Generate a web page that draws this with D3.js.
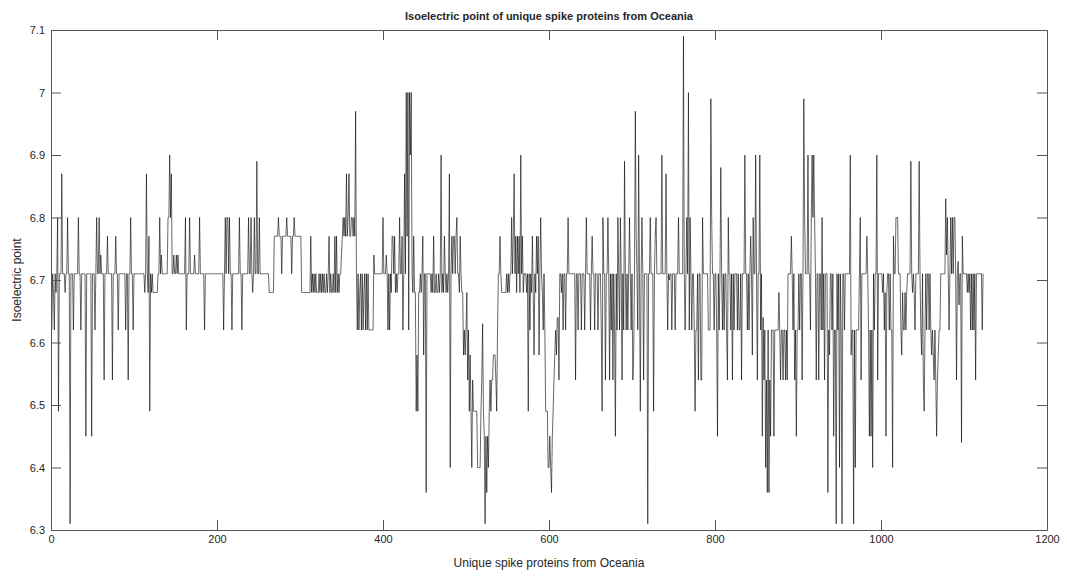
<!DOCTYPE html>
<html>
<head>
<meta charset="utf-8">
<script src="https://cdn.jsdelivr.net/npm/d3@7"></script>
<style>
  body { margin: 0; background: #fff; }
  svg text { font-family: "Liberation Sans", Arial, sans-serif; fill: #262626; }
</style>
</head>
<body>
<div id="chart"></div>
<script>
// isoelectric point per protein in blocks of ~115 proteins
var seg1 = [6.62,6.71,6.68,6.62,6.71,6.68,6.71,6.80,6.49,6.71,
  6.71,6.71,6.87,6.71,6.71,6.71,6.68,6.71,6.71,6.80,
  6.71,6.71,6.31,6.71,6.71,6.71,6.62,6.71,6.71,6.71,
  6.71,6.71,6.80,6.71,6.71,6.62,6.71,6.71,6.71,6.71,
  6.71,6.45,6.71,6.71,6.71,6.71,6.71,6.71,6.45,6.71,
  6.71,6.71,6.62,6.71,6.80,6.71,6.71,6.80,6.71,6.74,
  6.71,6.71,6.71,6.54,6.71,6.71,6.71,6.77,6.71,6.71,
  6.71,6.71,6.71,6.54,6.71,6.71,6.71,6.77,6.71,6.71,
  6.62,6.71,6.71,6.71,6.71,6.71,6.71,6.71,6.71,6.62,
  6.71,6.71,6.54,6.71,6.71,6.80,6.71,6.71,6.62,6.71,
  6.71,6.71,6.71,6.71,6.71,6.71,6.71,6.71,6.71,6.71,
  6.71,6.71,6.68,6.71];
var seg2 = [6.87,6.71,6.68,6.77,6.49,6.71,
  6.68,6.71,6.68,6.68,6.68,6.68,6.68,6.68,6.71,6.71,
  6.80,6.71,6.74,6.71,6.71,6.71,6.71,6.71,6.71,6.71,
  6.80,6.80,6.90,6.80,6.87,6.71,6.71,6.74,6.71,6.71,
  6.74,6.71,6.74,6.71,6.71,6.71,6.71,6.71,6.71,6.71,
  6.71,6.80,6.62,6.71,6.71,6.71,6.80,6.71,6.71,6.71,
  6.71,6.71,6.74,6.71,6.71,6.71,6.71,6.71,6.80,6.71,
  6.71,6.71,6.71,6.71,6.62,6.71,6.71,6.71,6.71,6.71,
  6.71,6.71,6.71,6.71,6.71,6.71,6.71,6.71,6.71,6.71,
  6.71,6.71,6.71,6.71,6.71,6.71,6.71,6.62,6.71,6.80,
  6.71,6.80,6.80,6.71,6.80,6.71,6.71,6.62,6.71,6.71,
  6.71,6.71,6.71,6.71,6.71,6.71,6.80,6.71];
var seg3 = [6.71,6.62,
  6.71,6.71,6.71,6.71,6.71,6.71,6.71,6.80,6.71,6.71,
  6.80,6.71,6.68,6.71,6.80,6.71,6.71,6.89,6.71,6.71,
  6.80,6.71,6.71,6.71,6.71,6.71,6.71,6.71,6.71,6.71,
  6.71,6.71,6.68,6.68,6.68,6.68,6.68,6.68,6.77,6.77,
  6.77,6.77,6.77,6.80,6.77,6.77,6.77,6.71,6.77,6.77,
  6.77,6.77,6.77,6.80,6.77,6.77,6.77,6.77,6.77,6.71,
  6.77,6.77,6.80,6.77,6.77,6.77,6.77,6.77,6.77,6.77,
  6.77,6.68,6.68,6.68,6.68,6.68,6.68,6.68,6.68,6.68,
  6.68,6.68,6.77,6.68,6.71,6.68,6.71,6.68,6.71,6.68,
  6.68,6.68,6.71,6.68,6.71,6.68,6.71,6.68,6.71,6.68,
  6.68,6.71,6.68,6.71,6.77,6.68,6.71,6.68,6.68,6.71,
  6.68,6.77,6.68];
var seg4 = [6.77,6.68,6.71,6.68,6.71,6.71,6.74,
  6.77,6.80,6.77,6.80,6.77,6.87,6.77,6.80,6.87,6.77,
  6.77,6.80,6.80,6.77,6.80,6.77,6.97,6.71,6.62,6.71,
  6.62,6.68,6.71,6.62,6.71,6.62,6.68,6.71,6.62,6.71,
  6.62,6.71,6.62,6.62,6.62,6.62,6.62,6.62,6.74,6.71,
  6.71,6.71,6.71,6.71,6.71,6.71,6.71,6.71,6.71,6.80,
  6.71,6.71,6.71,6.74,6.71,6.62,6.71,6.62,6.71,6.68,
  6.77,6.77,6.71,6.77,6.68,6.71,6.68,6.71,6.71,6.80,
  6.71,6.71,6.77,6.62,6.71,6.87,6.71,7.00,6.77,7.00,
  6.62,7.00,6.90,7.00,6.71,6.68,6.77,6.68,6.68,6.49,
  6.58,6.49,6.68,6.68,6.71,6.68,6.71,6.77,6.58,6.71,
  6.71,6.36,6.71,6.71,6.71,6.71,6.71];
var seg5 = [6.68,6.71,6.68,
  6.77,6.68,6.68,6.71,6.68,6.68,6.71,6.68,6.71,6.90,
  6.68,6.71,6.68,6.77,6.71,6.68,6.71,6.68,6.71,6.87,
  6.40,6.71,6.77,6.71,6.77,6.77,6.71,6.77,6.80,6.71,
  6.71,6.68,6.77,6.71,6.68,6.68,6.58,6.62,6.58,6.62,
  6.68,6.54,6.62,6.49,6.58,6.49,6.40,6.54,6.49,6.49,
  6.49,6.49,6.49,6.40,6.40,6.40,6.40,6.49,6.54,6.63,
  6.49,6.45,6.31,6.45,6.36,6.45,6.40,6.49,6.54,6.49,
  6.54,6.54,6.58,6.58,6.58,6.54,6.49,6.62,6.71,6.71,
  6.77,6.71,6.68,6.68,6.68,6.68,6.68,6.68,6.71,6.68,
  6.71,6.68,6.71,6.71,6.80,6.71,6.77,6.87,6.71,6.77,
  6.68,6.77,6.71,6.77,6.68,6.90,6.71,6.77,6.68,6.71,
  6.71,6.71];
var seg6 = [6.68,6.71,6.49,6.71,6.62,6.71,6.68,6.77,
  6.68,6.58,6.71,6.68,6.77,6.71,6.77,6.58,6.71,6.80,
  6.71,6.68,6.62,6.71,6.62,6.49,6.49,6.49,6.40,6.40,
  6.45,6.40,6.36,6.45,6.49,6.54,6.58,6.62,6.58,6.64,
  6.64,6.54,6.71,6.71,6.68,6.71,6.62,6.71,6.71,6.62,
  6.71,6.71,6.80,6.71,6.71,6.71,6.71,6.71,6.71,6.71,
  6.71,6.54,6.71,6.71,6.62,6.71,6.71,6.71,6.62,6.71,
  6.71,6.71,6.62,6.71,6.80,6.71,6.71,6.71,6.71,6.62,
  6.71,6.77,6.71,6.71,6.62,6.71,6.71,6.71,6.62,6.71,
  6.71,6.71,6.62,6.49,6.80,6.71,6.71,6.54,6.71,6.71,
  6.80,6.71,6.54,6.71,6.62,6.71,6.54,6.71,6.62,6.45,
  6.71,6.62,6.80,6.71,6.62,6.80];
var seg7 = [6.71,6.54,6.71,6.62,
  6.89,6.71,6.62,6.71,6.62,6.71,6.80,6.71,6.62,6.71,
  6.54,6.58,6.71,6.97,6.77,6.71,6.62,6.90,6.71,6.49,
  6.71,6.80,6.71,6.54,6.71,6.71,6.71,6.71,6.31,6.71,
  6.71,6.80,6.71,6.71,6.71,6.49,6.71,6.77,6.80,6.71,
  6.71,6.71,6.71,6.71,6.71,6.90,6.71,6.71,6.71,6.71,
  6.87,6.71,6.62,6.71,6.70,6.71,6.71,6.62,6.71,6.71,
  6.71,6.62,6.71,6.71,6.71,6.80,6.71,6.71,6.71,6.71,
  6.71,7.09,6.71,6.62,6.71,6.80,6.71,7.00,6.62,6.80,
  6.71,6.62,6.71,6.71,6.62,6.49,6.62,6.62,6.71,6.54,
  6.71,6.71,6.54,6.54,6.80,6.71,6.71,6.71,6.71,6.71,
  6.71,6.62,6.62,6.62,6.99,6.80,6.71,6.71,6.62,6.71,
  6.71];
var seg8 = [6.62,6.45,6.71,6.62,6.71,6.88,6.71,6.62,6.71,
  6.62,6.71,6.71,6.62,6.54,6.80,6.71,6.71,6.62,6.71,
  6.54,6.71,6.62,6.71,6.71,6.71,6.62,6.71,6.62,6.62,
  6.71,6.54,6.71,6.71,6.71,6.90,6.71,6.71,6.62,6.71,
  6.62,6.71,6.77,6.71,6.58,6.80,6.71,6.71,6.90,6.71,
  6.54,6.71,6.71,6.90,6.62,6.71,6.45,6.64,6.54,6.62,
  6.40,6.54,6.36,6.62,6.36,6.54,6.45,6.62,6.62,6.62,
  6.45,6.62,6.62,6.62,6.62,6.62,6.68,6.62,6.54,6.62,
  6.62,6.54,6.62,6.62,6.54,6.62,6.54,6.71,6.71,6.71,
  6.71,6.77,6.71,6.62,6.71,6.54,6.62,6.45,6.62,6.62,
  6.71,6.62,6.71,6.71,6.54,6.71,6.99,6.80,6.71,6.71,
  6.71,6.90,6.71,6.71,6.62];
var seg9 = [6.80,6.90,6.80,6.90,6.80,
  6.71,6.54,6.71,6.71,6.54,6.71,6.71,6.62,6.80,6.62,
  6.71,6.54,6.71,6.71,6.71,6.36,6.62,6.58,6.71,6.71,
  6.62,6.71,6.45,6.62,6.62,6.31,6.71,6.62,6.71,6.40,
  6.71,6.62,6.31,6.71,6.71,6.62,6.71,6.71,6.71,6.71,
  6.71,6.71,6.90,6.58,6.62,6.62,6.31,6.62,6.40,6.62,
  6.62,6.62,6.62,6.71,6.80,6.54,6.71,6.71,6.71,6.71,
  6.71,6.71,6.77,6.71,6.62,6.45,6.62,6.45,6.62,6.40,
  6.71,6.62,6.71,6.71,6.90,6.54,6.71,6.71,6.71,6.71,
  6.71,6.68,6.71,6.62,6.68,6.45,6.68,6.71,6.71,6.62,
  6.71,6.62,6.62,6.40,6.77,6.71,6.71,6.80,6.80,6.80,
  6.71,6.71,6.71,6.62,6.58,6.68,6.62,6.62,6.68,6.62];
var seg10 = [6.68,6.71,6.71,6.71,6.71,6.89,6.71,6.68,6.71,6.68,
  6.62,6.71,6.71,6.71,6.71,6.89,6.71,6.62,6.58,6.71,
  6.54,6.49,6.62,6.71,6.62,6.71,6.71,6.62,6.71,6.62,
  6.58,6.62,6.58,6.54,6.62,6.54,6.45,6.54,6.58,6.62,
  6.62,6.71,6.71,6.71,6.71,6.71,6.71,6.83,6.74,6.80,
  6.71,6.62,6.71,6.80,6.71,6.80,6.71,6.80,6.80,6.71,
  6.54,6.71,6.73,6.66,6.71,6.71,6.44,6.77,6.71,6.71,
  6.71,6.71,6.71,6.68,6.71,6.68,6.71,6.62,6.71,6.62,
  6.71,6.62,6.71,6.54,6.71,6.71,6.71,6.71,6.71,6.71,
  6.71,6.62,6.71];

var xTicks = [0, 200, 400, 600, 800, 1000, 1200];
var yTicks = [6.3, 6.4, 6.5, 6.6, 6.7, 6.8, 6.9, 7, 7.1];

var titleText = 'Isoelectric point of unique spike proteins from Oceania';
var xLabel = 'Unique spike proteins from Oceania';
var yLabel = 'Isoelectric point';

var pI = [].concat(seg1, seg2, seg3, seg4, seg5, seg6, seg7, seg8, seg9, seg10);

var W = 1067, H = 576;
// plot box (window.top is reserved, so use a margin object)
var box = { l: 51, r: 1047, t: 30, b: 530 };

var svg = d3.select('#chart').append('svg')
  .attr('width', W).attr('height', H);

var x = d3.scaleLinear().domain([0, 1200]).range([box.l, box.r]);
var y = d3.scaleLinear().domain([6.3, 7.1]).range([box.b, box.t]);

var fmtY = function(d) { return String(+d.toFixed(1)); };
var fmtX = d3.format('d');

// data line
var line = d3.line()
  .x(function(d, i) { return x(i + 1); })
  .y(function(d) { return y(d); });

svg.append('path')
  .datum(pI)
  .attr('fill', 'none')
  .attr('stroke', '#000')
  .attr('stroke-width', 0.6)
  .attr('d', line);

// axes, ticks pointing inward like matlab
var tk = 10;
var gx = svg.append('g').attr('transform', 'translate(0,' + box.b + ')')
  .call(d3.axisBottom(x).tickValues(xTicks).tickFormat(fmtX).tickSizeInner(-tk).tickSizeOuter(0).tickPadding(5));
var gxTop = svg.append('g').attr('transform', 'translate(0,' + box.t + ')')
  .call(d3.axisTop(x).tickValues(xTicks).tickSizeInner(-tk).tickSizeOuter(0).tickFormat(''));
var gy = svg.append('g').attr('transform', 'translate(' + box.l + ',0)')
  .call(d3.axisLeft(y).tickValues(yTicks).tickFormat(fmtY).tickSizeInner(-tk).tickSizeOuter(0).tickPadding(6));
var gyRight = svg.append('g').attr('transform', 'translate(' + box.r + ',0)')
  .call(d3.axisRight(y).tickValues(yTicks).tickSizeInner(-tk).tickSizeOuter(0).tickFormat(''));

[gx, gxTop, gy, gyRight].forEach(function(g) {
  g.select('.domain').attr('stroke', '#555').attr('stroke-width', 1);
  g.selectAll('.tick line').attr('stroke', '#555').attr('stroke-width', 1);
  g.selectAll('.tick text').attr('font-size', 11).attr('fill', '#262626')
    .style('font-family', '"Liberation Sans", Arial, sans-serif');
});

// labels
svg.append('text')
  .attr('x', (box.l + box.r) / 2).attr('y', 20)
  .attr('text-anchor', 'middle')
  .attr('font-size', 11).attr('font-weight', 'bold')
  .text(titleText);

svg.append('text')
  .attr('x', (box.l + box.r) / 2).attr('y', 567)
  .attr('text-anchor', 'middle')
  .attr('font-size', 12)
  .text(xLabel);

svg.append('text')
  .attr('transform', 'translate(21,' + ((box.t + box.b) / 2) + ') rotate(-90)')
  .attr('text-anchor', 'middle')
  .attr('font-size', 12)
  .text(yLabel);
</script>
</body>
</html>
